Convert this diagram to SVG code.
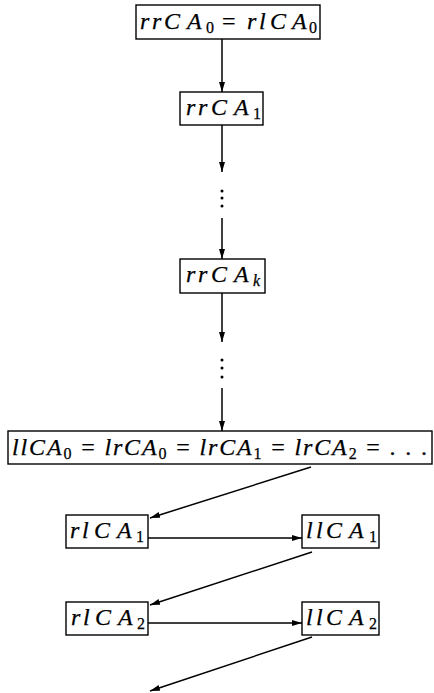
<svg xmlns="http://www.w3.org/2000/svg" width="434" height="693" viewBox="0 0 434 693">
<defs>
<style>
.box{fill:#fff;stroke:#000;stroke-width:1.4}
.t{font-family:"Liberation Serif","Times New Roman",serif;font-style:italic;font-size:24px;fill:#000;stroke:#000;stroke-width:0.25}
.s{font-style:normal;font-size:16px}
.si{font-style:italic;font-size:16px}
.op{font-style:normal}
.ln{stroke:#000;stroke-width:1.5;fill:none}
.dot{fill:#000}
</style>
<marker id="ah" viewBox="0 0 10 6" refX="10" refY="3" markerWidth="10" markerHeight="6" markerUnits="userSpaceOnUse" orient="auto">
<path d="M0,0 L10,3 L0,6 Z" fill="#000"/>
</marker>
</defs>
<rect width="434" height="693" fill="#fff"/>
<g id="connectors">
<line class="ln" x1="222" y1="39" x2="222" y2="92" marker-end="url(#ah)"/>
<line class="ln" x1="222" y1="125" x2="222" y2="172" marker-end="url(#ah)"/>
<circle class="dot" cx="222" cy="191" r="1.5"/>
<circle class="dot" cx="222" cy="198" r="1.5"/>
<circle class="dot" cx="222" cy="206" r="1.5"/>
<line class="ln" x1="222" y1="218" x2="222" y2="259" marker-end="url(#ah)"/>
<line class="ln" x1="222" y1="293" x2="222" y2="342" marker-end="url(#ah)"/>
<circle class="dot" cx="222" cy="360" r="1.5"/>
<circle class="dot" cx="222" cy="368" r="1.5"/>
<circle class="dot" cx="222" cy="377" r="1.5"/>
<line class="ln" x1="222" y1="388" x2="222" y2="431" marker-end="url(#ah)"/>
<line class="ln" x1="311" y1="467" x2="150" y2="518" marker-end="url(#ah)"/>
<line class="ln" x1="148" y1="538" x2="302" y2="538" marker-end="url(#ah)"/>
<line class="ln" x1="312" y1="552" x2="150" y2="605" marker-end="url(#ah)"/>
<line class="ln" x1="148" y1="623" x2="302" y2="623" marker-end="url(#ah)"/>
<line class="ln" x1="312" y1="637" x2="150" y2="691" marker-end="url(#ah)"/>
</g>
<g id="n_rrCA0">
<rect class="box" x="136" y="5" width="184" height="34"/>
<text class="t" x="140 152 164 187" y="29">rrCA<tspan class="s" x="206" y="33">0</tspan><tspan class="op" x="222" y="29">=</tspan><tspan x="247 259 270 292" y="29">rlCA</tspan><tspan class="s" x="309" y="33">0</tspan></text>
</g>
<g id="n_rrCA1">
<rect class="box" x="180" y="92" width="83" height="33"/>
<text class="t" x="186 198 211 234" y="115">rrCA<tspan class="s" x="253" y="119">1</tspan></text>
</g>
<g id="n_rrCAk">
<rect class="box" x="180" y="259" width="85" height="34"/>
<text class="t" x="186 198 211 234" y="282">rrCA<tspan class="si" x="253" y="286">k</tspan></text>
</g>
<g id="n_big">
<rect class="box" x="8" y="431" width="424" height="33"/>
<text class="t" x="12" y="455" textLength="415" lengthAdjust="spacing">llCA<tspan class="s" dy="4">0</tspan><tspan class="op" dy="-4"> = </tspan>lrCA<tspan class="s" dy="4">0</tspan><tspan class="op" dy="-4"> = </tspan>lrCA<tspan class="s" dy="4">1</tspan><tspan class="op" dy="-4"> = </tspan>lrCA<tspan class="s" dy="4">2</tspan><tspan class="op" dy="-4"> = . . .</tspan></text>
</g>
<g id="n_rlCA1">
<rect class="box" x="66" y="515" width="82" height="33"/>
<text class="t" x="70 82 94 117" y="538">rlCA<tspan class="s" x="136" y="542">1</tspan></text>
</g>
<g id="n_llCA1">
<rect class="box" x="302" y="515" width="77" height="33"/>
<text class="t" x="306 316 326 349" y="538">llCA<tspan class="s" x="369" y="542">1</tspan></text>
</g>
<g id="n_rlCA2">
<rect class="box" x="66" y="602" width="82" height="33"/>
<text class="t" x="71 83 95 118" y="625">rlCA<tspan class="s" x="137" y="629">2</tspan></text>
</g>
<g id="n_llCA2">
<rect class="box" x="302" y="602" width="77" height="33"/>
<text class="t" x="306 316 326 349" y="625">llCA<tspan class="s" x="369" y="629">2</tspan></text>
</g>
</svg>
